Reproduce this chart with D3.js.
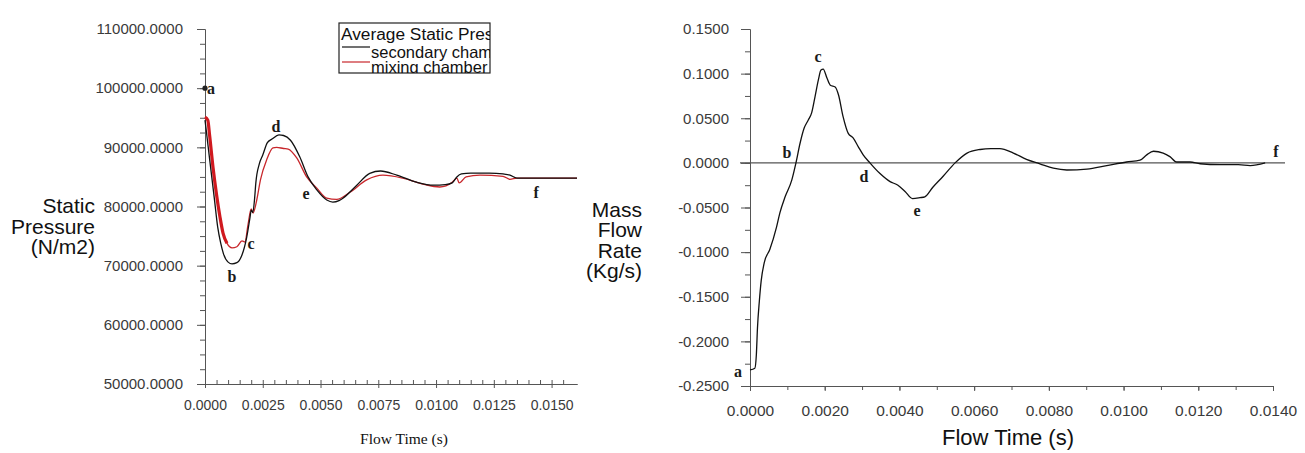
<!DOCTYPE html>
<html>
<head>
<meta charset="utf-8">
<script src="https://cdn.jsdelivr.net/npm/d3@7"></script>
<style>
  html, body { margin: 0; padding: 0; background: #fff; }
  svg { display: block; }
</style>
</head>
<body>
<svg id="chart" width="1305" height="453"></svg>
<script>
// Average static pressure vs flow time (left panel)
const secondaryTime = [0, 0.00005, 0.0002, 0.0004, 0.00055, 0.00068, 0.0008, 0.001, 0.00117, 0.00138, 0.0016, 0.0018, 0.00195, 0.002, 0.00207, 0.00215, 0.0022, 0.00235, 0.0025, 0.0027, 0.0029, 0.0032, 0.0034, 0.0037, 0.0041, 0.00446, 0.00484, 0.00527, 0.00553, 0.0058, 0.00597, 0.00657, 0.00713, 0.0076, 0.0083, 0.00916, 0.0099, 0.0104, 0.0107, 0.0109, 0.0111, 0.0115, 0.0123, 0.0129, 0.0132, 0.0135, 0.0161];
const secondaryPressure = [94600, 93000, 88000, 81500, 76500, 73800, 72000, 70600, 70300, 70500, 71800, 74700, 78200, 79400, 79000, 81500, 84000, 87200, 88700, 90800, 91400, 92100, 92000, 91200, 88400, 85000, 82800, 81100, 80750, 81000, 81400, 83600, 85600, 86000, 85300, 84100, 83600, 83700, 84000, 85000, 85500, 85650, 85650, 85500, 85300, 84800, 84800];

const mixingTime = [0, 0.00012, 0.0002, 0.00035, 0.0005, 0.00065, 0.00078, 0.00095, 0.00117, 0.00138, 0.0016, 0.00173, 0.00186, 0.002, 0.00208, 0.00224, 0.0024, 0.00267, 0.00294, 0.0031, 0.0034, 0.0036, 0.00397, 0.0044, 0.00484, 0.00527, 0.0057, 0.00627, 0.007, 0.0077, 0.00856, 0.00943, 0.01016, 0.0107, 0.0109, 0.011, 0.0113, 0.0119, 0.0129, 0.0132, 0.0135, 0.0161];
const mixingPressure = [95100, 94600, 92000, 86500, 82000, 78200, 75500, 73800, 73000, 73200, 74200, 74000, 76900, 79600, 78900, 81100, 84500, 87900, 89900, 90000, 89800, 89700, 88200, 85000, 83100, 81400, 81200, 82400, 84500, 85300, 84800, 83800, 83300, 84100, 84800, 84000, 85000, 85300, 85100, 84600, 84800, 84800];

const pressureTicks = [50000, 60000, 70000, 80000, 90000, 100000, 110000];
const pressureTimeTicks = [0, 0.0025, 0.005, 0.0075, 0.01, 0.0125, 0.015];
const seriesNames = ["secondary chamber", "mixing chamber"];
const legendTitle = "Average Static Pressure";

// Mass flow rate vs flow time (right panel)
const flowTime = [0, 0.00013, 0.00017, 0.0002, 0.00025, 0.0003, 0.00038, 0.00053, 0.00071, 0.0008, 0.00094, 0.00112, 0.00123, 0.00134, 0.00145, 0.00156, 0.00165, 0.00174, 0.00183, 0.0019, 0.00196, 0.00206, 0.00215, 0.00228, 0.00237, 0.00249, 0.00263, 0.00276, 0.0029, 0.00303, 0.00321, 0.00348, 0.00375, 0.00396, 0.00415, 0.00435, 0.00455, 0.00468, 0.0049, 0.00517, 0.00549, 0.00581, 0.00616, 0.00645, 0.00669, 0.00705, 0.0074, 0.00776, 0.00812, 0.00848, 0.00902, 0.00955, 0.01008, 0.01044, 0.01062, 0.0108, 0.01106, 0.01124, 0.01142, 0.01178, 0.01205, 0.01258, 0.01307, 0.01339, 0.01379];
const massFlow = [-0.232, -0.230, -0.215, -0.185, -0.155, -0.132, -0.112, -0.097, -0.072, -0.056, -0.038, -0.019, 0, 0.022, 0.039, 0.048, 0.056, 0.074, 0.093, 0.104, 0.105, 0.095, 0.087, 0.085, 0.076, 0.052, 0.033, 0.028, 0.018, 0.009, 0, -0.012, -0.021, -0.025, -0.032, -0.040, -0.039, -0.038, -0.027, -0.015, 0, 0.011, 0.015, 0.016, 0.016, 0.011, 0.004, -0.001, -0.006, -0.008, -0.007, -0.003, 0.001, 0.003, 0.009, 0.013, 0.011, 0.007, 0.001, 0.001, -0.001, -0.002, -0.002, -0.003, 0];

const massTicks = [-0.25, -0.2, -0.15, -0.1, -0.05, 0, 0.05, 0.1, 0.15];
const massTimeTicks = [0, 0.002, 0.004, 0.006, 0.008, 0.01, 0.012, 0.014];

// State labels a–f, in data units
const pressureLetters = ["a", "b", "c", "d", "e", "f"];
const pressureLetterTime = [0.00026, 0.00117, 0.00199, 0.00307, 0.00437, 0.01433];
const pressureLetterValue = [99900, 68250, 73830, 93600, 82280, 82450];
const flowLetters = ["a", "b", "c", "d", "e", "f"];
const flowLetterTime = [-0.00032, 0.00099, 0.00182, 0.00305, 0.00447, 0.01408];
const flowLetterValue = [-0.2331, 0.0112, 0.1188, -0.0157, -0.0538, 0.0134];

const svg = d3.select("#chart");
svg.append("rect").attr("width", 1305).attr("height", 453).attr("fill", "#fff");

const SANS = "'Liberation Sans', Arial, sans-serif";
const SERIF = "'Liberation Serif', 'Times New Roman', serif";
const AXIS = "#555";
const LABEL = "#3a3a3a";
// fixed four decimals with a plain hyphen for negatives
const fmt4 = v => d3.format(".4f")(v).replace("\u2212", "-");

function styleAxis(g, size) {
  g.select(".domain").attr("stroke", AXIS);
  g.selectAll(".tick line").attr("stroke", AXIS);
  g.selectAll(".tick text").attr("fill", LABEL).style("font-family", SANS).style("font-size", size + "px");
}

/* ---------- left panel ---------- */
const xL = d3.scaleLinear().domain([0, 0.0161]).range([205, 577]);
const yL = d3.scaleLinear().domain([50000, 110000]).range([384, 29]);

// minor ticks
svg.append("g").attr("transform", `translate(${xL(0)},0)`)
  .call(d3.axisLeft(yL).tickValues(d3.range(50000, 110001, 2500)).tickSizeInner(5).tickSizeOuter(0).tickFormat(""))
  .call(g => styleAxis(g, 15));
svg.append("g").attr("transform", `translate(0,${yL(50000)})`)
  .call(d3.axisBottom(xL).tickValues(d3.range(0, 32).map(i => i * 0.0005)).tickSizeInner(-4).tickSizeOuter(0).tickFormat(""))
  .call(g => styleAxis(g, 14));
// major ticks and labels
svg.append("g").attr("transform", `translate(${xL(0)},0)`)
  .call(d3.axisLeft(yL).tickValues(pressureTicks).tickSizeInner(8).tickSizeOuter(0).tickPadding(14).tickFormat(fmt4))
  .call(g => styleAxis(g, 15));
svg.append("g").attr("transform", `translate(0,${yL(50000)})`)
  .call(d3.axisBottom(xL).tickValues(pressureTimeTicks).tickSizeInner(4).tickSizeOuter(0).tickPadding(12).tickFormat(fmt4))
  .call(g => styleAxis(g, 14));

const lineL = d3.line().x(d => xL(d[0])).y(d => yL(d[1])).curve(d3.curveMonotoneX);
const secData = secondaryTime.map((t, i) => [t, secondaryPressure[i]]);
const mixData = mixingTime.map((t, i) => [t, mixingPressure[i]]);

svg.append("path").datum(mixData).attr("d", lineL)
  .attr("fill", "none").attr("stroke", "#c8262b").attr("stroke-width", 1.3);
// overlapping early mixing-chamber samples render as a heavy stroke
svg.append("path").datum(mixData.filter(d => d[0] <= 0.00095)).attr("d", lineL)
  .attr("fill", "none").attr("stroke", "#d0191f").attr("stroke-width", 3.2);
svg.append("path").datum(secData).attr("d", lineL)
  .attr("fill", "none").attr("stroke", "#111").attr("stroke-width", 1.3);

// initial state marker
svg.append("circle").attr("cx", xL(0)).attr("cy", yL(100000)).attr("r", 2.6).attr("fill", "#222");

pressureLetters.forEach((k, i) => {
  svg.append("text").attr("x", xL(pressureLetterTime[i])).attr("y", yL(pressureLetterValue[i]))
    .attr("dy", "0.35em").attr("text-anchor", "middle")
    .style("font-family", SERIF).style("font-size", "16px").style("font-weight", "bold")
    .attr("fill", "#1a1a1a").text(k);
});

// y title
const titleL = svg.append("text").attr("text-anchor", "end").attr("fill", "#111")
  .style("font-family", SANS).style("font-size", "21px");
[["Static", 213], ["Pressure", 234], ["(N/m2)", 254]].forEach(([s, y]) =>
  titleL.append("tspan").attr("x", 95).attr("y", y).text(s));

svg.append("text").attr("x", 404).attr("y", 444).attr("text-anchor", "middle")
  .style("font-family", SERIF).style("font-size", "15.5px").attr("fill", "#111").text("Flow Time (s)");

// legend (box clips its contents)
const lg = { x: 339, y: 23, w: 151, h: 50 };
svg.append("clipPath").attr("id", "legend-clip")
  .append("rect").attr("x", lg.x).attr("y", lg.y).attr("width", lg.w).attr("height", lg.h);
svg.append("rect").attr("x", lg.x).attr("y", lg.y).attr("width", lg.w).attr("height", lg.h)
  .attr("fill", "#fff").attr("stroke", "#222").attr("stroke-width", 1.2);
const lgc = svg.append("g").attr("clip-path", "url(#legend-clip)");
lgc.append("text").attr("x", lg.x + 2).attr("y", lg.y + 17)
  .style("font-family", SANS).style("font-size", "17.3px").attr("fill", "#111").text(legendTitle);
const legendColors = ["#111", "#c8262b"];
seriesNames.forEach((name, i) => {
  const yy = lg.y + 24 + i * 15;
  lgc.append("line").attr("x1", lg.x + 3).attr("x2", lg.x + 31).attr("y1", yy).attr("y2", yy)
    .attr("stroke", legendColors[i]).attr("stroke-width", 1.2);
  lgc.append("text").attr("x", lg.x + 32).attr("y", yy + 10.5)
    .style("font-family", SANS).style("font-size", "16.5px").attr("fill", "#111").text(name);
});

/* ---------- right panel ---------- */
const xR = d3.scaleLinear().domain([0, 0.014]).range([750, 1273]);
const yR = d3.scaleLinear().domain([-0.25, 0.15]).range([386, 29]);

svg.append("g").attr("transform", `translate(${xR(0)},0)`)
  .call(d3.axisLeft(yR).tickValues(d3.range(0, 17).map(i => -0.25 + i * 0.025)).tickSizeInner(5).tickSizeOuter(0).tickFormat(""))
  .call(g => styleAxis(g, 15));
svg.append("g").attr("transform", `translate(0,${yR(-0.25)})`)
  .call(d3.axisBottom(xR).tickValues(d3.range(0, 15).map(i => i * 0.001)).tickSizeInner(4).tickSizeOuter(0).tickFormat(""))
  .call(g => styleAxis(g, 15));
svg.append("g").attr("transform", `translate(${xR(0)},0)`)
  .call(d3.axisLeft(yR).tickValues(massTicks).tickSizeInner(9).tickSizeOuter(0).tickPadding(12).tickFormat(fmt4))
  .call(g => styleAxis(g, 15));
svg.append("g").attr("transform", `translate(0,${yR(-0.25)})`)
  .call(d3.axisBottom(xR).tickValues(massTimeTicks).tickSizeInner(5).tickSizeOuter(0).tickPadding(14).tickFormat(fmt4))
  .call(g => styleAxis(g, 15.5));

// zero reference line
svg.append("line").attr("x1", xR(0) - 10).attr("x2", xR(0.014) + 12)
  .attr("y1", yR(0)).attr("y2", yR(0)).attr("stroke", "#555").attr("stroke-width", 1.2);

const lineR = d3.line().x(d => xR(d[0])).y(d => yR(d[1])).curve(d3.curveMonotoneX);
svg.append("path").datum(flowTime.map((t, i) => [t, massFlow[i]])).attr("d", lineR)
  .attr("fill", "none").attr("stroke", "#111").attr("stroke-width", 1.3);

flowLetters.forEach((k, i) => {
  svg.append("text").attr("x", xR(flowLetterTime[i])).attr("y", yR(flowLetterValue[i]))
    .attr("dy", "0.35em").attr("text-anchor", "middle")
    .style("font-family", SERIF).style("font-size", "16px").style("font-weight", "bold")
    .attr("fill", "#1a1a1a").text(k);
});

const titleR = svg.append("text").attr("text-anchor", "end").attr("fill", "#111")
  .style("font-family", SANS).style("font-size", "21px");
[["Mass", 217], ["Flow", 237], ["Rate", 258], ["(Kg/s)", 278]].forEach(([s, y]) =>
  titleR.append("tspan").attr("x", 642).attr("y", y).text(s));

svg.append("text").attr("x", 1008).attr("y", 445).attr("text-anchor", "middle")
  .style("font-family", SANS).style("font-size", "22px").attr("fill", "#111").text("Flow Time (s)");
</script>
</body>
</html>
